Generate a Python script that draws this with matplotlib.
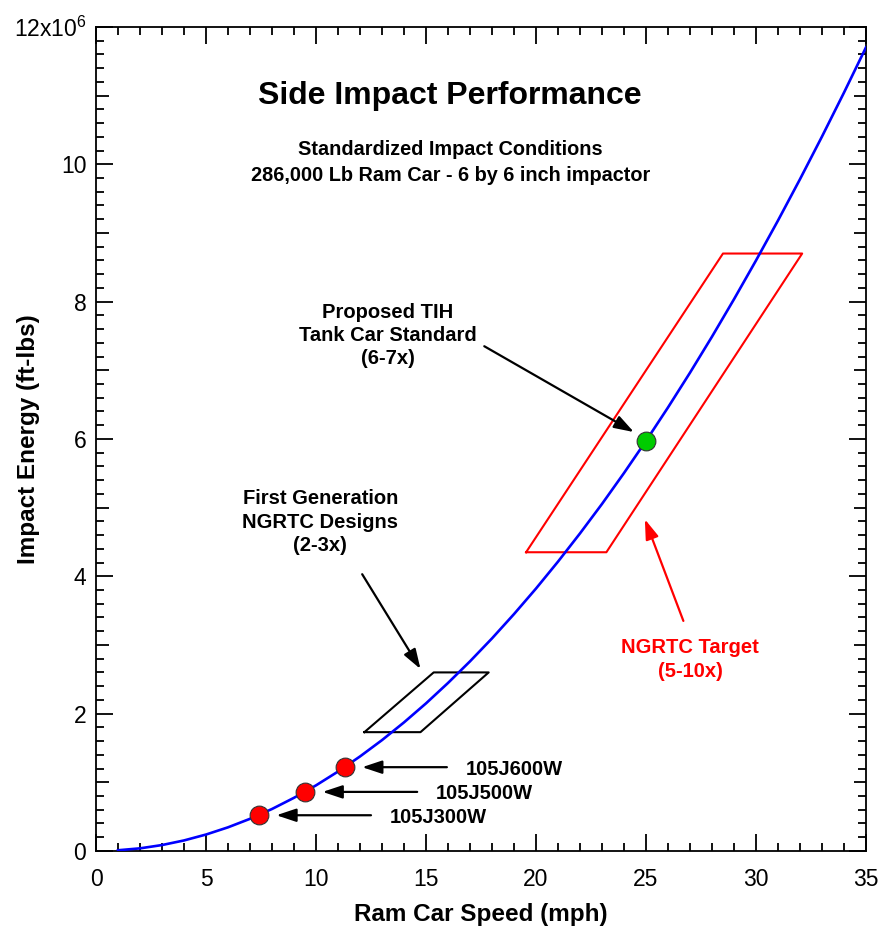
import matplotlib
matplotlib.use("Agg")
import matplotlib.pyplot as plt
from matplotlib.ticker import MultipleLocator, FixedLocator, FuncFormatter

plt.rcParams['font.family'] = ['Liberation Sans', 'DejaVu Sans']
plt.rcParams['mathtext.fontset'] = 'custom'
plt.rcParams['mathtext.rm'] = 'Liberation Sans'
plt.rcParams['mathtext.it'] = 'Liberation Sans:italic'

# ===== data (energy in millions of ft-lbs) =====
speed_mph = [1, 2, 3, 4, 5, 6, 7, 8, 9, 10, 11, 12, 13, 14, 15, 16, 17, 18,
             19, 20, 21, 22, 23, 24, 25, 26, 27, 28, 29, 30, 31, 32, 33, 34, 35]
energy_m = [0.010, 0.038, 0.086, 0.153, 0.239, 0.344, 0.468, 0.611, 0.774,
            0.955, 1.156, 1.376, 1.614, 1.872, 2.149, 2.446, 2.761, 3.095,
            3.449, 3.821, 4.213, 4.624, 5.053, 5.503, 5.971, 6.458, 6.964,
            7.489, 8.034, 8.598, 9.180, 9.782, 10.403, 11.043, 11.702]

car_names = ["105J300W", "105J500W", "105J600W"]
car_speed = [7.4, 9.5, 11.3]
car_energy = [0.52, 0.86, 1.22]

tih_speed = 25.0
tih_energy = 5.97

# first generation box (parallelogram corners)
gen1_x = [12.2, 14.75, 17.85, 15.35, 12.2]
gen1_y = [1.73, 1.73, 2.60, 2.60, 1.73]

# NGRTC target box
target_x = [19.55, 23.2, 32.1, 28.5, 19.55]
target_y = [4.35, 4.35, 8.70, 8.70, 4.35]

fig = plt.figure(figsize=(8.84, 9.38), dpi=100)
ax = fig.add_axes([0.1086, 0.0928, 0.871, 0.8785])

ax.plot(speed_mph, energy_m, color="#0000ff", lw=1.9, zorder=3)
ax.plot(gen1_x, gen1_y, color="black", lw=1.5, zorder=2)
ax.plot(target_x, target_y, color="#ff0000", lw=1.5, zorder=2)

ax.plot(car_speed, car_energy, "o", ms=13.5, mfc="#ff0000", mec="#333333",
        mew=0.8, zorder=5)
ax.plot([tih_speed], [tih_energy], "o", ms=13.5, mfc="#00cc00", mec="#333333",
        mew=0.8, zorder=5)

arrow = dict(arrowstyle="-|>,head_length=1.2,head_width=0.4", color="black",
             lw=1.6, shrinkA=0, shrinkB=0)

# labels for the existing cars
lab_x = [13.35, 15.45, 16.8]
for name, sx, sy, lx in zip(car_names, car_speed, car_energy, lab_x):
    ax.annotate("", xy=(sx + 0.8, sy), xytext=(lx - 0.85, sy),
                arrowprops=arrow)
    ax.text(lx, sy - 0.03, name, fontsize=14.5, fontweight="bold",
            ha="left", va="center")

ax.text(16.1, 10.99, "Side Impact Performance", fontsize=23,
        fontweight="bold", ha="center", va="center")
ax.text(16.1, 10.22, "Standardized Impact Conditions", fontsize=14.3,
        fontweight="bold", ha="center", va="center")
ax.text(16.1, 9.84, "286,000 Lb Ram Car - 6 by 6 inch impactor", fontsize=14.3,
        fontweight="bold", ha="center", va="center")

ax.text(13.25, 7.51, "Proposed TIH\nTank Car Standard\n(6-7x)", fontsize=14.5,
        fontweight="bold", ha="center", va="center", linespacing=1.27)
ax.annotate("", xy=(24.45, 6.10), xytext=(17.65, 7.35), arrowprops=arrow)

ax.text(10.2, 4.79, "First Generation\nNGRTC Designs\n(2-3x)", fontsize=14.5,
        fontweight="bold", ha="center", va="center", linespacing=1.3)
ax.annotate("", xy=(14.75, 2.65), xytext=(12.1, 4.03), arrowprops=arrow)

ax.text(27.0, 2.79, "NGRTC Target\n(5-10x)", fontsize=14.5, fontweight="bold",
        color="#ff0000", ha="center", va="center", linespacing=1.3)
red_arrow = dict(arrow, color="#ff0000")
ax.annotate("", xy=(24.95, 4.83), xytext=(26.7, 3.35), arrowprops=red_arrow)

ax.set_xlim(0, 35)
ax.set_ylim(0, 12)
ax.xaxis.set_major_locator(MultipleLocator(5))
ax.xaxis.set_minor_locator(MultipleLocator(1))
ax.yaxis.set_major_locator(FixedLocator([0, 2, 4, 6, 8, 10, 12]))
ax.yaxis.set_minor_locator(MultipleLocator(0.2))
ax.yaxis.set_major_formatter(FuncFormatter(
    lambda v, p: r"12x10$^{6}$" if v == 12 else f"{v:g}"))

ax.tick_params(which="both", direction="in", top=True, right=True,
               labelsize=16.5, width=1.3)
ax.tick_params(axis="x", which="major", pad=12)
ax.tick_params(axis="y", which="major", pad=7)
ax.tick_params(which="major", length=12)
ax.tick_params(which="minor", length=6)
for s in ax.spines.values():
    s.set_linewidth(1.3)

ax.set_xlabel("Ram Car Speed (mph)", fontsize=17.5, fontweight="bold",
              labelpad=9)
ax.set_ylabel("Impact Energy (ft-lbs)", fontsize=17.5, fontweight="bold",
              va="center")
ax.yaxis.set_label_coords(-0.088, 0.5)

# medium-length ticks at the odd millions
fig.canvas.draw()
ylocs = ax.yaxis.get_minorticklocs()
yticks = ax.yaxis.get_minor_ticks(len(ylocs))
for loc, t in zip(ylocs, yticks):
    if abs(loc - round(loc)) < 1e-6 and int(round(loc)) % 2 == 1:
        t.tick1line.set_markersize(9)
        t.tick2line.set_markersize(9)

fig.savefig("out.png", dpi=100)
